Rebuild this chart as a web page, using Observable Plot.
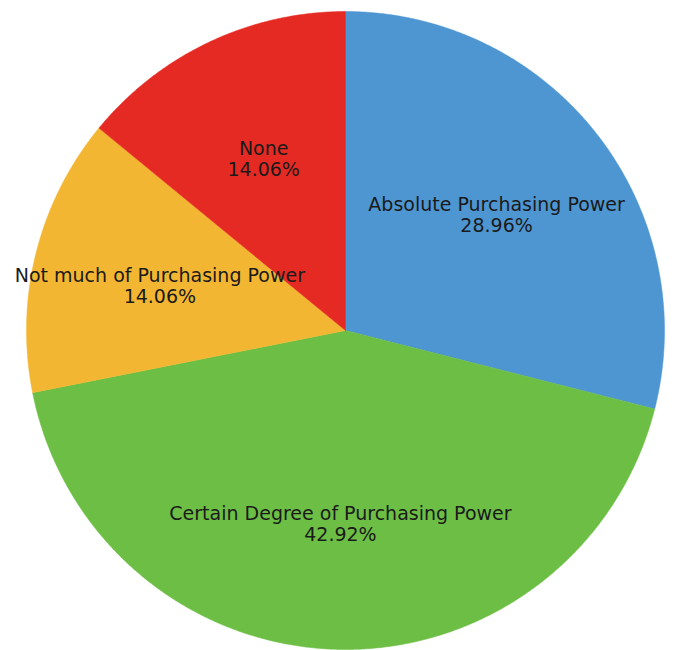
<!DOCTYPE html>
<html><head><meta charset="utf-8">
<script src="https://cdn.jsdelivr.net/npm/d3@7"></script>
<script src="https://cdn.jsdelivr.net/npm/@observablehq/plot@0.6"></script>
<style>body{margin:0;background:#fff}</style>
</head><body><div id="chart"></div>
<script>
const categories = ["Absolute Purchasing Power", "Certain Degree of Purchasing Power", "Not much of Purchasing Power", "None"];
const shares = [28.96, 42.92, 14.06, 14.06];
const labels = ["28.96%", "42.92%", "14.06%", "14.06%"];
const colors = ["#4E96D2", "#6CBF44", "#F3B632", "#E52A24"];

const arcs = d3.pie().sort(null).value(d => d)(shares);
const pts = [];
arcs.forEach((a, i) => {
  const name = categories[i];
  pts.push({name, x: 0, y: 0});
  const n = Math.max(2, Math.ceil((a.endAngle - a.startAngle) / 0.005));
  for (let k = 0; k <= n; k++) {
    const t = a.startAngle + (a.endAngle - a.startAngle) * k / n;
    pts.push({name, x: Math.sin(t), y: Math.cos(t)});
  }
  pts.push({name, x: 0, y: 0});
});
const lab = arcs.map((a, i) => {
  const m = (a.startAngle + a.endAngle) / 2;
  return {text: categories[i] + "\n" + labels[i], x: 0.6 * Math.sin(m), y: 0.6 * Math.cos(m) - 0.005};
});

const chart = Plot.plot({
  width: 675, height: 650,
  marginLeft: 26, marginRight: 11, marginTop: 11, marginBottom: 1,
  x: {domain: [-1, 1], axis: null},
  y: {domain: [-1, 1], axis: null},
  color: {domain: categories, range: colors},
  style: {fontFamily: "'DejaVu Sans', sans-serif", background: "#fff"},
  marks: [
    Plot.line(pts, {x: "x", y: "y", z: "name", fill: "name", stroke: "name", strokeWidth: 0.5, curve: "linear"}),
    Plot.text(lab, {x: "x", y: "y", text: "text", fontSize: 19, lineHeight: 1.1, fill: "#1a1a1a", textAnchor: "middle", lineAnchor: "middle"})
  ]
});
document.getElementById("chart").appendChild(chart);
</script>
</body></html>
